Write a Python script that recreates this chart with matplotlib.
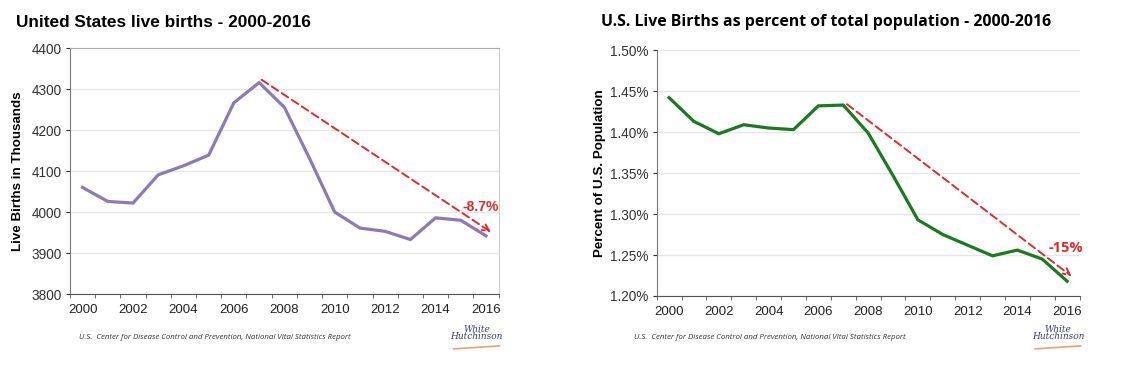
import numpy as np
import matplotlib.pyplot as plt
from matplotlib.ticker import FuncFormatter, MultipleLocator

years = list(range(2000, 2017))
births = [4060, 4026, 4022, 4091, 4113, 4139, 4267, 4316, 4256, 4131,
          4000, 3961, 3953, 3933, 3986, 3980, 3942]
pct_pop = [1.442, 1.413, 1.398, 1.409, 1.405, 1.403, 1.432, 1.433, 1.399, 1.347,
           1.293, 1.275, 1.262, 1.249, 1.256, 1.245, 1.218]
year_labels = [str(y) if y % 2 == 0 else "" for y in years]

# trend arrows (start/end values) and labels
births_trend = [4323, 3951]
pct_trend = [1.434, 1.224]
births_change = "-8.7%"
pct_change = "-15%"

source = "U.S.  Center for Disease Control and Prevention, National Vital Statistics Report"

plt.rcParams['font.family'] = ['Liberation Sans', 'DejaVu Sans']

fig = plt.figure(figsize=(11.4, 3.68), dpi=100)
fig.patch.set_facecolor("white")

def style_axes(ax, ylim, ystep, fmt, frame):
    n = len(years)
    x = np.arange(n)
    ax.set_xlim(-0.5, n - 0.5)
    ax.set_ylim(*ylim)
    ax.yaxis.set_major_locator(MultipleLocator(ystep))
    ax.yaxis.set_major_formatter(FuncFormatter(fmt))
    ax.set_xticks(x)
    ax.set_xticklabels(year_labels)
    ax.tick_params(axis="x", length=0, labelsize=9.5, colors="#222222", pad=7)
    ax.set_xticks(np.arange(n + 1) - 0.5, minor=True)
    ax.tick_params(axis="x", which="minor", length=3, color="#555555")
    ax.tick_params(axis="y", length=3, labelsize=9.8, colors="#333333", pad=3)
    ax.grid(axis="y", color="#e6e6e6", lw=1)
    ax.set_axisbelow(True)
    ax.spines["left"].set_color("#777777")
    ax.spines["bottom"].set_color("#555555")
    if frame:
        ax.spines["top"].set_color("#aaaaaa")
        ax.spines["right"].set_color("#cccccc")
    else:
        ax.spines["top"].set_visible(False)
        ax.spines["right"].set_visible(False)
    return x

arrow_style = dict(arrowstyle="->", color="#e02a2a", lw=1.4, ls=(0, (4, 2.2)),
                   mutation_scale=12, shrinkA=0, shrinkB=0)

# left chart
ax1 = fig.add_axes([0.0614, 0.201, 0.376, 0.668])
x = style_axes(ax1, (3800, 4400), 100, lambda v, p: "%d" % v, True)
ax1.plot(x, births, color="#8c7bb3", lw=2.3, solid_joinstyle="miter")
ax1.annotate("", xy=(16.2, births_trend[1]), xytext=(7.1, births_trend[0]),
             arrowprops=arrow_style)
ax1.text(15.8, 4012, births_change, color="#e02a2a", fontsize=10, fontweight="bold",
         ha="center", va="center")
ax1.set_ylabel("Live Births in Thousands", fontsize=9.6, fontweight="bold", labelpad=5)
fig.text(0.014, 0.94, "United States live births - 2000-2016", fontsize=12.4,
         fontweight="bold", ha="left", va="center")
fig.text(0.069, 0.082, source, fontsize=5.7, style="italic", family=["Open Sans", "DejaVu Sans"],
         color="#333333", ha="left", va="center")

# right chart
ax2 = fig.add_axes([0.576, 0.1957, 0.371, 0.668])
x = style_axes(ax2, (1.20, 1.50), 0.05, lambda v, p: "%.2f%%" % v, False)
ax2.plot(x, pct_pop, color="#1a7a1f", lw=2.3, solid_joinstyle="miter")
ax2.annotate("", xy=(16.18, pct_trend[1]), xytext=(7.15, pct_trend[0]),
             arrowprops=arrow_style)
ax2.text(15.95, 1.259, pct_change, color="#e02a2a", fontsize=10.5, fontweight="bold",
         family=["Open Sans", "DejaVu Sans"], ha="center", va="center")
ax2.set_ylabel("Percent of U.S. Population", fontsize=9.6, fontweight="bold", labelpad=3)
fig.text(0.527, 0.94, "U.S. Live Births as percent of total population - 2000-2016",
         fontsize=11.4, fontweight="bold", family=["Open Sans", "DejaVu Sans"],
         ha="left", va="center")
fig.text(0.556, 0.082, source, fontsize=5.7, style="italic", family=["Open Sans", "DejaVu Sans"],
         color="#333333", ha="left", va="center")

# logos
for lx in (0.418, 0.928):
    fig.text(lx, 0.095, "White\nHutchinson", fontsize=6.5, style="italic",
             family=["DejaVu Serif"], color="#3a3a7a", ha="center", va="center",
             linespacing=0.8)
    fig.add_artist(plt.Line2D([lx - 0.02, lx + 0.02], [0.052, 0.06],
                              color="#e8a07a", lw=1.2))

fig.savefig("out.png", dpi=100)
